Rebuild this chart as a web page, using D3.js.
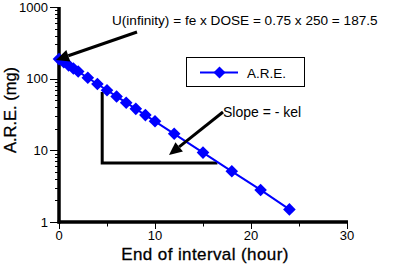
<!DOCTYPE html>
<html><head><meta charset="utf-8">
<script src="https://cdn.jsdelivr.net/npm/d3@7"></script>
<style>
html,body{margin:0;padding:0;background:#fff;}
svg{display:block;font-family:"Liberation Sans",Arial,sans-serif;}
</style></head>
<body>
<svg id="c" width="402" height="266"></svg>
<script>
// Data
const times = [0, 0.5, 1, 1.5, 2, 3, 4, 5, 6, 7, 8, 9, 10, 12, 15, 18, 21, 24];
const are   = [187.5, 169.7, 153.5, 138.9, 125.7, 102.9, 84.2, 69.0, 56.5, 46.2, 37.9, 31.0, 25.4, 17.0, 9.3, 5.1, 2.8, 1.5];
const xTicks = [0, 10, 20, 30];
const xMinorTicks = [5, 15, 25];
const yTicks = [1, 10, 100, 1000];
const seriesName = "A.R.E.";
const uText = "U(infinity) = fe x DOSE = 0.75 x 250 = 187.5";
const slopeText = "Slope = - kel";
const xTitle = "End of interval (hour)";
const yTitle = "A.R.E. (mg)";
// slope triangle corners (data units)
const triT = [4.5, 16.5];
const triV = [65, 6.65];

const svg = d3.select("#c");
const x = d3.scaleLinear().domain([0, 30]).range([59, 347]);
const y = d3.scaleLog().domain([1, 1000]).range([222, 7]);

const blue = "#0000ff";

// minor y ticks
const minor = [];
for (let d = 1; d < 1000; d *= 10) for (let k = 2; k <= 9; k++) minor.push(d * k);

// y axis
const yAxis = svg.append("g");
yAxis.selectAll("line.minor").data(minor).enter().append("line")
  .attr("x1", 55).attr("x2", 59).attr("y1", d => Math.round(y(d)) + 0.5).attr("y2", d => Math.round(y(d)) + 0.5)
  .attr("stroke", "#000").attr("stroke-width", 1);
yAxis.selectAll("line.major").data(yTicks).enter().append("line")
  .attr("x1", 50).attr("x2", 59).attr("y1", d => Math.round(y(d)) + 0.5).attr("y2", d => Math.round(y(d)) + 0.5)
  .attr("stroke", "#000").attr("stroke-width", 1);
yAxis.selectAll("text").data(yTicks).enter().append("text")
  .attr("x", 48).attr("y", d => y(d) + 4.5).attr("text-anchor", "end")
  .attr("font-size", 13).text(d => d);
yAxis.append("line").attr("x1", x(0)).attr("x2", x(0)).attr("y1", y(1000)).attr("y2", y(1) + 1.5)
  .attr("stroke", "#000").attr("stroke-width", 3.5);

// x axis
const xAxis = svg.append("g");
xAxis.selectAll("line.major").data(xTicks).enter().append("line")
  .attr("x1", d => Math.round(x(d)) + 0.5).attr("x2", d => Math.round(x(d)) + 0.5).attr("y1", 222).attr("y2", 229)
  .attr("stroke", "#000").attr("stroke-width", 1);
xAxis.selectAll("line.minor").data(xMinorTicks).enter().append("line")
  .attr("x1", d => Math.round(x(d)) + 0.5).attr("x2", d => Math.round(x(d)) + 0.5).attr("y1", 222).attr("y2", 226.5)
  .attr("stroke", "#000").attr("stroke-width", 1);
xAxis.selectAll("text").data(xTicks).enter().append("text")
  .attr("x", d => x(d)).attr("y", 240).attr("text-anchor", "middle")
  .attr("font-size", 13).text(d => d);
xAxis.append("line").attr("x1", x(0) - 1.5).attr("x2", x(30) + 1).attr("y1", y(1)).attr("y2", y(1))
  .attr("stroke", "#000").attr("stroke-width", 3.5);

// titles
svg.append("text").attr("x", 205).attr("y", 260).attr("text-anchor", "middle")
  .attr("font-size", 17).attr("letter-spacing", 0.4).attr("stroke", "#000").attr("stroke-width", 0.3).text(xTitle);
svg.append("text").attr("transform", "translate(16,110) rotate(-90)").attr("text-anchor", "middle")
  .attr("font-size", 16.5).attr("stroke", "#000").attr("stroke-width", 0.3).text(yTitle);

// slope triangle
svg.append("path")
  .attr("d", `M${x(triT[0])},${y(triV[0])}L${x(triT[0])},${y(triV[1])}L${x(triT[1])},${y(triV[1])}`)
  .attr("fill", "none").attr("stroke", "#000").attr("stroke-width", 3);

// series
const line = d3.line().x((d, i) => x(times[i])).y(d => y(d));
svg.append("path").datum(are).attr("d", line).attr("fill", "none").attr("stroke", blue).attr("stroke-width", 2);
const diamond = (cx, cy, r) => `M${cx},${cy - r}L${cx + r},${cy}L${cx},${cy + r}L${cx - r},${cy}Z`;
svg.selectAll("path.pt").data(are).enter().append("path")
  .attr("d", (d, i) => diamond(x(times[i]), y(d), 6.3)).attr("fill", blue);

// arrows
function arrow(x1, y1, x2, y2) {
  const ang = Math.atan2(y2 - y1, x2 - x1);
  const L = 13, W = 6;
  const bx = x2 - L * Math.cos(ang), by = y2 - L * Math.sin(ang);
  svg.append("line").attr("x1", x1).attr("y1", y1).attr("x2", bx).attr("y2", by)
    .attr("stroke", "#000").attr("stroke-width", 3);
  const px = -Math.sin(ang), py = Math.cos(ang);
  svg.append("path").attr("d",
    `M${x2},${y2}L${bx + px * W},${by + py * W}L${bx - px * W},${by - py * W}Z`).attr("fill", "#000");
}
arrow(137, 32, 56, 60);
arrow(223, 112, 169, 155);

// annotation text
svg.append("text").attr("x", 112).attr("y", 25).attr("font-size", 13.6).text(uText);
svg.append("text").attr("x", 223).attr("y", 117).attr("font-size", 14).text(slopeText);

// legend
svg.append("rect").attr("x", 186.5).attr("y", 57.5).attr("width", 118).attr("height", 29)
  .attr("fill", "#fff").attr("stroke", "#000").attr("stroke-width", 1);
svg.append("line").attr("x1", 200).attr("x2", 238).attr("y1", 72.5).attr("y2", 72.5)
  .attr("stroke", blue).attr("stroke-width", 2);
svg.append("path").attr("d", diamond(219.5, 72.5, 6)).attr("fill", blue);
svg.append("text").attr("x", 247).attr("y", 77.5).attr("font-size", 13.5).text(seriesName);
</script>
</body></html>
